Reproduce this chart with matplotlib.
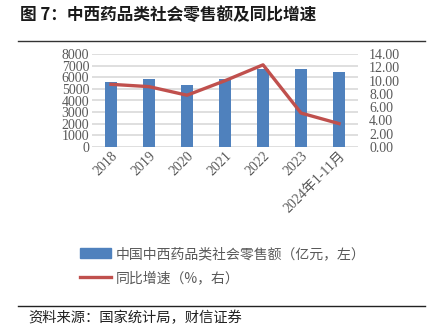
import matplotlib
matplotlib.use("Agg")
import matplotlib.pyplot as plt
import numpy as np
from matplotlib.patches import Patch
from matplotlib.lines import Line2D

years = ["2018", "2019", "2020", "2021", "2022", "2023", "2024年1-11月"]
sales = [5580, 5890, 5340, 5830, 6700, 6710, 6470]
growth = [9.45, 9.1, 7.8, 10.0, 12.4, 5.1, 3.5]

plt.rcParams["font.family"] = ["Liberation Serif", "Noto Sans CJK SC"]
gray = "#595959"
blue = "#4F81BD"
red = "#C0504D"

fig = plt.figure(figsize=(4.34, 3.35), dpi=100)
ax = fig.add_axes([0.212, 0.562, 0.613, 0.276])
x = np.arange(len(years))
ax.bar(x, sales, width=0.3, color=blue, zorder=3)
ax.set_xlim(-0.5, len(years) - 0.5)
ax.set_ylim(0, 8000)
ax.set_yticks(np.arange(0, 8001, 1000))
ax.grid(axis="y", color="#D9D9D9", linewidth=1.2, zorder=0)
for s in ax.spines.values():
    s.set_visible(False)
ax.tick_params(length=0, labelsize=10, colors=gray, pad=2)
ax.set_xticks(x)
ax.set_xticklabels(years, rotation=45, ha="right", rotation_mode="anchor")

ax2 = ax.twinx()
ax2.plot(x, growth, color=red, linewidth=2.4, zorder=4)
ax2.set_ylim(0, 14)
ax2.set_yticks(np.arange(0, 14.1, 2))
ax2.set_yticklabels([f"{v:.2f}" for v in np.arange(0, 14.1, 2)])
for s in ax2.spines.values():
    s.set_visible(False)
ax2.tick_params(length=0, labelsize=10, colors=gray, pad=8)

cjk = ["Noto Sans CJK SC"]
fig.text(0.046, 0.955, "图 7：中西药品类社会零售额及同比增速", fontsize=12,
         fontweight="bold", family=cjk, va="center", color="#1a1a1a")
fig.add_artist(Line2D([0.042, 0.98], [0.877, 0.877], color="#333333", linewidth=1.0))
fig.add_artist(Line2D([0.042, 0.98], [0.087, 0.087], color="#222222", linewidth=1.0))
fig.text(0.065, 0.05, "资料来源：国家统计局，财信证券", fontsize=10.3, family=cjk,
         style="italic", va="center", color="#222222")

handles = [Patch(color=blue), Line2D([0], [0], color=red, linewidth=2.4)]
labels = ["中国中西药品类社会零售额（亿元，左）", "同比增速（%，右）"]
leg = fig.legend(handles, labels, loc="upper left", bbox_to_anchor=(0.172, 0.28),
                 frameon=False, prop={"family": cjk, "size": 10, "weight": "light"},
                 handlelength=2.2, handletextpad=0.35, labelspacing=0.75,
                 borderaxespad=0)
for t in leg.get_texts():
    t.set_color(gray)

fig.savefig("out.png", dpi=100)
